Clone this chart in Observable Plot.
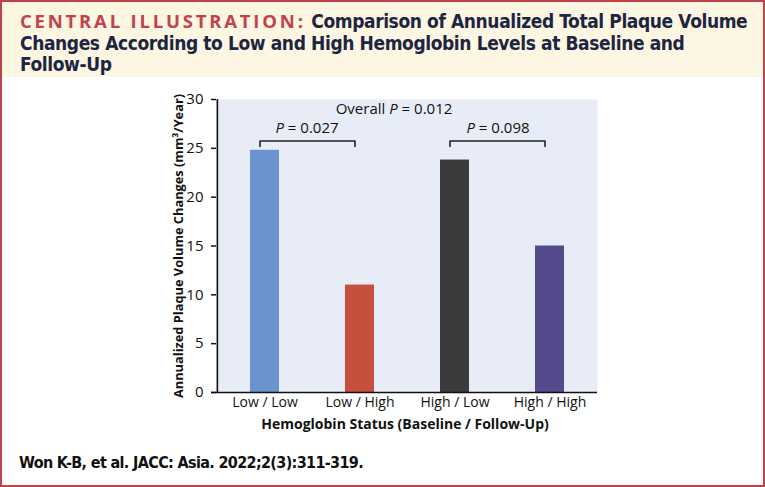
<!DOCTYPE html>
<html>
<head>
<meta charset="utf-8">
<script src="https://cdn.jsdelivr.net/npm/d3@7"></script>
<script src="https://cdn.jsdelivr.net/npm/@observablehq/plot@0.6"></script>
<style>
  html, body { margin: 0; padding: 0; background: #fff; }
  #wrap { width: 765px; height: 487px; box-sizing: border-box; border: 2px solid #c0434b; position: relative; overflow: hidden; background: #fff; }
  #head { height: 75px; background: #fcf6e2; padding: 8px 0 0 18px; box-sizing: border-box; font-family: "DejaVu Sans Condensed", "Liberation Sans Narrow", sans-serif; font-stretch: condensed; font-weight: bold; font-size: 19px; line-height: 21.5px; color: #1c2541; letter-spacing: -0.4px; white-space: nowrap; }
  #head .red { color: #c0434b; font-family: "Open Sans", sans-serif; font-stretch: normal; letter-spacing: 2.8px; font-size: 18.5px; }
  #foot { position: absolute; left: 17px; top: 451px; font-family: "DejaVu Sans Condensed", "Liberation Sans Narrow", sans-serif; font-stretch: condensed; font-weight: bold; font-size: 16px; letter-spacing: -0.65px; color: #111; }
  #chart svg { display: block; }
</style>
</head>
<body>
<div id="wrap">
  <div id="head"><span class="red">CENTRAL ILLUSTRATION:</span> Comparison of Annualized Total Plaque Volume<br>Changes According to Low and High Hemoglobin Levels at Baseline and<br>Follow-Up</div>
  <div id="chart"></div>
  <div id="foot">Won K-B, et al. JACC: Asia. 2022;2(3):311-319.</div>
</div>
<script>
const categories = ["Low / Low", "Low / High", "High / Low", "High / High"];
const values = [24.8, 11.0, 23.8, 15.0];
const colors = ["#6b93d0", "#c5503e", "#3b3b3d", "#554a8c"];
const yTicks = [0, 5, 10, 15, 20, 25, 30];
const yLabel = "Annualized Plaque Volume Changes (mm³/Year)";
const xLabel = "Hemoglobin Status (Baseline / Follow-Up)";
const pairLabels = ["P = 0.027", "P = 0.098"];
const overallLabel = "Overall P = 0.012";

const bars = categories.map((c, i) => ({cat: c, value: values[i], color: colors[i]}));

const width = 761, height = 362;
const marginLeft = 214, marginRight = 166, marginTop = 22, marginBottom = 47;
const frameW = width - marginLeft - marginRight;
const halfStep = frameW / 8;

// brackets
const brackets = [];
[[0, 1], [2, 3]].forEach(([a, b], k) => {
  brackets.push({x: categories[a], y: 25.2, g: k});
  brackets.push({x: categories[a], y: 25.75, g: k});
  brackets.push({x: categories[b], y: 25.75, g: k});
  brackets.push({x: categories[b], y: 25.2, g: k});
});

const chart = Plot.plot({
  width, height, marginLeft, marginRight, marginTop, marginBottom,
  style: {fontFamily: "'Open Sans', sans-serif", fontSize: "14px", color: "#111"},
  x: {domain: categories, paddingInner: 0.696, paddingOuter: 0.348, label: null},
  y: {domain: [0, 30], label: null},
  marks: [
    Plot.frame({fill: "#e8ecf7", stroke: null}),
    Plot.barY(bars, {x: "cat", y: "value", fill: "color"}),
    Plot.line(brackets, {x: "x", y: "y", z: "g", stroke: "#222", strokeWidth: 1.6, dx: -5}),
    Plot.text([pairLabels[0]], {x: () => categories[0], y: () => 27.1, text: d => d, dx: 42, fontSize: 15, fill: "#111"}),
    Plot.text([pairLabels[1]], {x: () => categories[2], y: () => 27.1, text: d => d, dx: 43, fontSize: 15, fill: "#111"}),
    Plot.text([overallLabel], {x: () => categories[1], y: () => 29.0, text: d => d, dx: 34, fontSize: 15, fill: "#111"}),
    Plot.axisY({ticks: yTicks, tickSize: 5, tickPadding: 8, fontSize: 15, label: null, stroke: "#111", strokeWidth: 1.5}),
    Plot.axisX({tickSize: 0, tickPadding: 5, fontSize: 14, label: null}),
    Plot.ruleX([categories[0]], {y1: 0, y2: 30, dx: -halfStep, stroke: "#111", strokeWidth: 1.6}),
    Plot.ruleY([0], {stroke: "#111", strokeWidth: 1.6, insetLeft: -5}),
    Plot.text([yLabel], {frameAnchor: "left", dx: -38, rotate: -90, textAnchor: "middle", text: d => d, fontSize: 12.8, fontWeight: "bold", fill: "#111"}),
    Plot.text([xLabel], {frameAnchor: "bottom", dy: 32, dx: -2, lineAnchor: "middle", text: d => d, fontSize: 14, fontWeight: "bold", fill: "#111"})
  ]
});

d3.select(chart).selectAll("text").each(function() {
  const t = this.textContent;
  const m = t.match(/^(Overall )?P( = .*)$/);
  if (m && this.children.length === 0) {
    const sel = d3.select(this);
    sel.text(null);
    if (m[1]) sel.append("tspan").text(m[1]);
    sel.append("tspan").attr("font-style", "italic").text("P");
    sel.append("tspan").text(m[2]);
  }
});

document.getElementById("chart").appendChild(chart);
</script>
</body>
</html>
